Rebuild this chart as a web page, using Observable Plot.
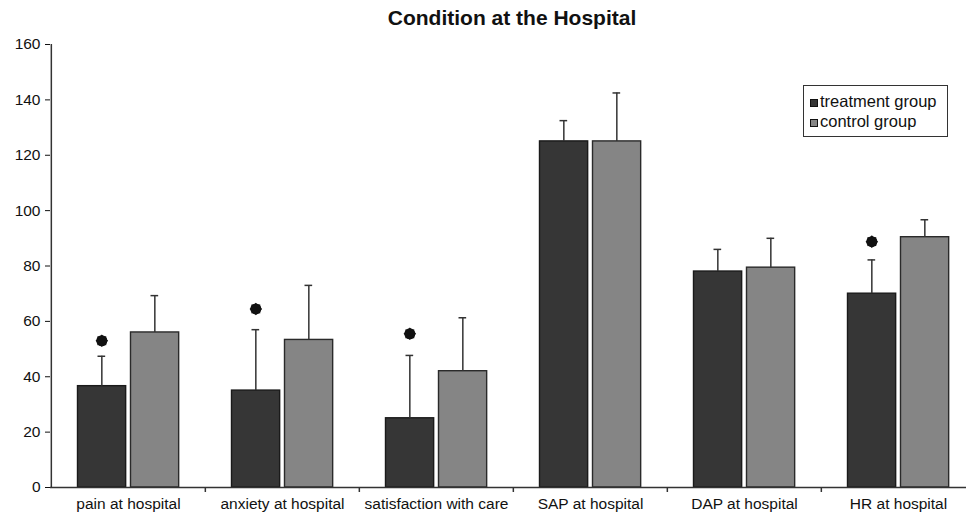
<!DOCTYPE html>
<html>
<head>
<meta charset="utf-8">
<script src="https://cdn.jsdelivr.net/npm/d3@7"></script>
<script src="https://cdn.jsdelivr.net/npm/@observablehq/plot@0.6"></script>
<style>
  html, body { margin: 0; padding: 0; background: #fff; }
  #wrap { position: relative; width: 966px; height: 514px; overflow: hidden; font-family: "Liberation Sans", Arial, sans-serif; color: #111; }
  #title { position: absolute; left: 312px; width: 400px; top: 7px; text-align: center; font-weight: bold; font-size: 21px; line-height: 21px; white-space: nowrap; }
  #legend { position: absolute; left: 803px; top: 85px; width: 143px; height: 50px; border: 1.3px solid #333; box-sizing: content-box; }
  .lrow { position: absolute; left: 6px; font-size: 16.5px; line-height: 20px; white-space: nowrap; }
  .sw { display: inline-block; width: 6px; height: 6px; border: 1px solid #111; margin-right: 2px; vertical-align: 0px; }
  #chart { position: absolute; left: 0; top: 0; }
</style>
</head>
<body>
<div id="wrap">
  <div id="chart"></div>
  <div id="title">Condition at the Hospital</div>
  <div id="legend"></div>
</div>
<script>
// ---- data ----
const categories = ["pain at hospital", "anxiety at hospital", "satisfaction with care", "SAP at hospital", "DAP at hospital", "HR at hospital"];
const treatmentMean = [36.6, 35, 25, 125, 78, 70];
const treatmentSD = [10.8, 22, 22.7, 7.5, 8, 12.2];
const controlMean = [56, 53.3, 42, 125, 79.4, 90.4];
const controlSD = [13.3, 19.7, 19.3, 17.5, 10.6, 6.3];
const starY = [53, 64.5, 55.5, null, null, 88.8];   // significance markers (treatment)
const yTicks = [0, 20, 40, 60, 80, 100, 120, 140, 160];
const seriesNames = ["treatment group", "control group"];
const seriesColors = ["#363636", "#858585"];

const treatment = categories.map((c, i) => ({category: c, mean: treatmentMean[i], sd: treatmentSD[i]}));
const control = categories.map((c, i) => ({category: c, mean: controlMean[i], sd: controlSD[i]}));
const stars = categories.map((c, i) => ({category: c, y: starY[i]})).filter(d => d.y != null);

const step = (976 - 50) / categories.length;
const half = step / 2;
const axisColor = "#333";

const chart = Plot.plot({
  width: 966,
  height: 514,
  marginLeft: 50,
  marginRight: 0,
  marginTop: 44,
  marginBottom: 27,
  style: {fontFamily: "'Liberation Sans', Arial, sans-serif", fontSize: "15.5px", color: "#111", background: "transparent"},
  x: {domain: categories, range: [50, 976], padding: 0, label: null, tickSize: 0, tickPadding: 10},
  y: {domain: [0, 160], range: [487, 44], ticks: yTicks, tickSize: 5, tickPadding: 5, label: null},
  marks: [
    Plot.barY(treatment, {x: "category", y: "mean", fill: seriesColors[0], stroke: "#1a1a1a", strokeWidth: 1.4, insetLeft: 26.5, insetRight: step - 75}),
    Plot.barY(control, {x: "category", y: "mean", fill: seriesColors[1], stroke: "#2a2a2a", strokeWidth: 1.4, insetLeft: 79.5, insetRight: step - 128}),
    Plot.ruleX(treatment, {x: "category", y1: "mean", y2: d => d.mean + d.sd, dx: 50.5 - half, stroke: axisColor, strokeWidth: 1.5}),
    Plot.ruleX(control, {x: "category", y1: "mean", y2: d => d.mean + d.sd, dx: 103.5 - half, stroke: axisColor, strokeWidth: 1.5}),
    Plot.tickY(treatment, {x: "category", y: d => d.mean + d.sd, insetLeft: 46.5, insetRight: step - 54.5, stroke: axisColor, strokeWidth: 1.5}),
    Plot.tickY(control, {x: "category", y: d => d.mean + d.sd, insetLeft: 99.5, insetRight: step - 107.5, stroke: axisColor, strokeWidth: 1.5}),
    Plot.dot(stars, {x: "category", y: "y", dx: 50.5 - half, r: 5.5, fill: "#111", stroke: "none"}),
    Plot.dot(stars, {x: "category", y: "y", dx: 50.5 - half, r: 5, symbol: "square", fill: "#111", stroke: "none"}),
    Plot.dot(stars, {x: "category", y: "y", dx: 50.5 - half, r: 5, symbol: "square", rotate: 45, fill: "#111", stroke: "none"}),
    Plot.ruleX([categories[0]], {x: d => d, dx: -half, y1: 0, y2: 160, stroke: axisColor, strokeWidth: 1.5}),
    Plot.ruleX(categories.slice(1), {x: d => d, dx: -half, y1: 0, y2: -1.8, stroke: axisColor, strokeWidth: 1.5}),
    Plot.ruleY([0], {stroke: axisColor, strokeWidth: 1.5})
  ]
});
document.getElementById("chart").appendChild(chart);

// legend
const legend = document.getElementById("legend");
seriesNames.forEach((name, i) => {
  const row = document.createElement("div");
  row.className = "lrow";
  row.style.top = (5 + i * 20) + "px";
  const sw = document.createElement("span");
  sw.className = "sw";
  sw.style.background = seriesColors[i];
  row.appendChild(sw);
  row.appendChild(document.createTextNode(name));
  legend.appendChild(row);
});
</script>
</body>
</html>
